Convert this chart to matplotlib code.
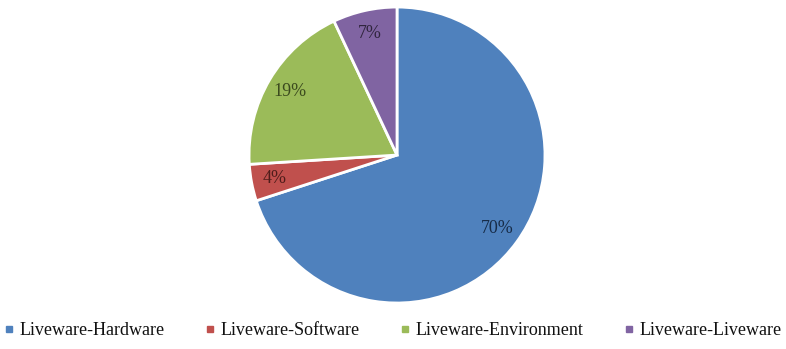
import matplotlib.pyplot as plt
from matplotlib.lines import Line2D

# Data
categories = ["Liveware-Hardware", "Liveware-Software", "Liveware-Environment", "Liveware-Liveware"]
shares = [70, 4, 19, 7]

colors = ["#4F81BD", "#C0504D", "#9BBB59", "#8064A2"]
label_colors = ["#172C48", "#4F1D1B", "#3B4A1E", "#30253E"]

plt.rcParams["font.family"] = ["Liberation Serif", "DejaVu Serif"]

fig = plt.figure(figsize=(7.86, 3.49), dpi=100)
ax = fig.add_axes([0.3168, 0.1318, 0.3766, 0.848])

wedges, texts, autotexts = ax.pie(
    shares,
    colors=colors,
    startangle=90,
    counterclock=False,
    autopct="%1.0f%%",
    pctdistance=0.84,
    wedgeprops=dict(edgecolor="white", linewidth=2),
    textprops=dict(fontsize=13),
)
for t, c in zip(autotexts, label_colors):
    t.set_color(c)

ax.set_xlim(-1, 1)
ax.set_ylim(-1, 1)
ax.set_aspect("equal")

handles = [
    Line2D([], [], marker="s", linestyle="none", markersize=4.5,
           markerfacecolor=c, markeredgecolor=c)
    for c in colors
]
fig.legend(
    handles,
    categories,
    loc="center",
    bbox_to_anchor=(0.5, 0.052),
    ncol=4,
    frameon=False,
    fontsize=13,
    handlelength=0.5,
    handletextpad=0.3,
    columnspacing=2.3,
    borderpad=0.0,
    borderaxespad=0.0,
    labelcolor="#111111",
)

fig.savefig("out.png", dpi=100, facecolor="white")
